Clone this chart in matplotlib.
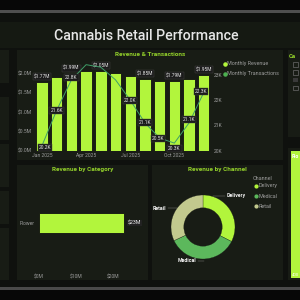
import matplotlib
matplotlib.use("Agg")
import matplotlib.pyplot as plt
from matplotlib.patches import Rectangle

plt.rcParams['font.family'] = ['Roboto', 'DejaVu Sans']

# ---------------- data ----------------
months = ["Jan", "Feb", "Mar", "Apr", "May", "Jun", "Jul", "Aug", "Sep", "Oct", "Nov", "Dec"]
month_ticks = ["Jan 2025", "Apr 2025", "Jul 2025", "Oct 2025"]
revenue_m = [1.77, 1.90, 1.99, 2.06, 2.05, 2.01, 1.94, 1.85, 1.81, 1.79, 1.85, 1.95]
transactions_k = [20.2, 21.6, 22.8, 23.4, 23.3, 22.8, 22.0, 21.1, 20.5, 20.3, 21.1, 22.3]
rev_label_months = ["Jan", "Mar", "May", "Aug", "Oct", "Dec"]
trx_label_months = ["Jan", "Feb", "Mar", "Jul", "Aug", "Sep", "Oct", "Nov", "Dec"]
left_ticks = [0.0, 0.5, 1.0, 1.5, 2.0]
right_ticks = [20, 21, 22, 23]

categories = ["Flower"]
category_revenue_m = [23]
category_ticks = [0, 10, 20]

channels = ["Delivery", "Medical", "Retail"]
channel_share = [32.5, 35.5, 32.0]

# ---------------- style ----------------
W, H = 300, 300
LIME = "#b2f53c"
GREEN_LINE = "#3f9e68"
TITLE_GREEN = "#93d12a"
PANEL = "#181c15"
CANVAS = "#0f110e"
TICK = "#9c9c9c"
channel_colors = ["#b2f53c", "#5cb85c", "#c2c98e"]

fig = plt.figure(figsize=(3, 3), dpi=100, facecolor="#080808")


def px_axes(x0, y0, x1, y1, **kw):
    return fig.add_axes([x0 / W, 1 - y1 / H, (x1 - x0) / W, (y1 - y0) / H], **kw)


bg = px_axes(0, 0, 300, 300)
bg.set_xlim(0, 300)
bg.set_ylim(300, 0)
bg.axis("off")


def rect(x0, y0, x1, y1, color, **kw):
    bg.add_patch(Rectangle((x0, y0), x1 - x0, y1 - y0, facecolor=color, edgecolor="none", **kw))


rect(0, 0, 300, 10, "#070707")
rect(0, 10, 300, 12.5, "#4f4f4f")
rect(0, 12.5, 300, 287, CANVAS)
rect(0, 22, 300, 48, "#151912")
rect(0, 287, 300, 290, "#4a4a4a")
rect(0, 290, 300, 300, "#070707")

# left column boxes
for y0, y1 in [(50, 83), (97, 140), (144, 187), (191, 224), (228, 280)]:
    rect(0, y0, 9, y1, PANEL)

# main panels
rect(17, 50, 283, 160, PANEL)
rect(17, 165, 148, 280, PANEL)
rect(152, 165, 283, 280, PANEL)
rect(288, 50, 300, 137, PANEL)
rect(288, 148, 300, 280, PANEL)

# right slicer (partly visible at the edge)
bg.text(289, 56, "Ca", color=TITLE_GREEN, fontsize=4.3, fontweight="bold",
        va="center", ha="left")
for i, yy in enumerate([62, 70, 77.5, 85.5]):
    if i == 2:
        rect(293, yy, 297.5, yy + 4.5, "#3a3a3a")
    else:
        bg.add_patch(Rectangle((293, yy), 4.5, 4.5, facecolor="none", edgecolor="#6a6a6a", lw=0.5))

# right treemap strip (partly visible)
rect(290.5, 151, 300, 278, LIME)
bg.text(292, 157, "Flo", color="white", fontsize=3.8, fontweight="bold", va="center", ha="left")
bg.text(292, 275, "400", color="white", fontsize=3, va="center", ha="left")

# titles
bg.text(146, 36, "Cannabis Retail Performance", color="#e6e6e6", fontsize=10.2,
        fontweight="medium", ha="center", va="center")
bg.text(150, 54.5, "Revenue & Transactions", color=TITLE_GREEN, fontsize=4.6,
        fontweight="bold", ha="center", va="center")
bg.text(83, 170, "Revenue by Category", color=TITLE_GREEN, fontsize=4.6,
        fontweight="bold", ha="center", va="center")
bg.text(217, 170, "Revenue by Channel", color=TITLE_GREEN, fontsize=4.6,
        fontweight="bold", ha="center", va="center")

# ---------------- Revenue & Transactions ----------------
ax = px_axes(34, 60, 212, 150.7)
ax.set_facecolor("none")
x = list(range(len(months)))
ax.bar(x, revenue_m, width=0.78, color=LIME, edgecolor="#101010", linewidth=0.6, zorder=2)
ax.set_xlim(-0.544, 11.56)
ax.set_ylim(0, 2.344)
ax.set_yticks(left_ticks)
ax.set_yticklabels([f"${v:.1f}M" for v in left_ticks])
ax.set_xticks([months.index(m.split()[0]) for m in month_ticks])
ax.set_xticklabels(month_ticks)
ax.tick_params(axis="both", colors=TICK, labelsize=3.6, length=0, pad=1.5)
for s in ax.spines.values():
    s.set_visible(False)

for m in rev_label_months:
    i = months.index(m)
    ax.annotate(f"${revenue_m[i]:.2f}M", (i, revenue_m[i]), xytext=(0, 2.2), textcoords="offset points",
                ha="center", va="bottom", fontsize=3.5, color="#e8e8e8", zorder=6,
                bbox=dict(boxstyle="square,pad=0.2", fc="#1b1b1b", ec="#444444", lw=0.3))

ax2 = ax.twinx()
ax2.set_ylim(20, 23.585)
ax2.plot(x, transactions_k, color=GREEN_LINE, lw=0.7, zorder=5)
ax2.set_yticks(right_ticks)
ax2.set_yticklabels([f"{v}K" for v in right_ticks])
ax2.tick_params(axis="y", colors=TICK, labelsize=3.6, length=0, pad=1.5)
for s in ax2.spines.values():
    s.set_visible(False)
trx_offsets = {"Jan": (2, -1), "Mar": (0, 2), "Oct": (0, -4), "Sep": (-1, 0), "Nov": (0, 2.5), "Dec": (-2, 1)}
for m in trx_label_months:
    i = months.index(m)
    dx, dy = trx_offsets.get(m, (0, 0))
    ax2.annotate(f"{transactions_k[i]:.1f}K", (i, transactions_k[i]), xytext=(dx, dy), textcoords="offset points",
                 ha="center", va="center", fontsize=3.5, color="#e8e8e8", zorder=7,
                 bbox=dict(boxstyle="square,pad=0.2", fc="#1b1b1b", ec="#444444", lw=0.3))

# legend
bg.scatter([224.5], [64], s=5, color=LIME, zorder=5)
bg.text(227, 64, "Monthly Revenue", color=TICK, fontsize=3.9, va="center", ha="left")
bg.scatter([224.5], [74], s=5, color="#4caf50", zorder=5)
bg.text(227, 74, "Monthly Transactions", color=TICK, fontsize=3.9, va="center", ha="left")

# ---------------- Revenue by Category ----------------
axc = px_axes(39, 176, 140, 270)
axc.set_facecolor("none")
yc = list(range(len(categories)))
axc.barh(yc, category_revenue_m, height=1.0, color=LIME, edgecolor="#101010", linewidth=0.6)
axc.set_xlim(0, 27.3)
axc.set_ylim(-2.35, 2.35)
axc.set_xticks(category_ticks)
axc.set_xticklabels([f"${v}M" for v in category_ticks])
axc.set_yticks(yc)
axc.set_yticklabels(categories)
axc.tick_params(axis="both", colors=TICK, labelsize=3.6, length=0, pad=3.5)
for s in axc.spines.values():
    s.set_visible(False)
for i, v in enumerate(category_revenue_m):
    axc.annotate(f"${v}M", (v, i), xytext=(2.5, 0), textcoords="offset points", ha="left", va="center",
                 fontsize=3.8, color="#f0f0f0",
                 bbox=dict(boxstyle="square,pad=0.15", fc="#222222", ec="none"))

# ---------------- Revenue by Channel ----------------
axd = px_axes(163, 187, 243, 267)
axd.set_facecolor("none")
axd.pie(channel_share, colors=channel_colors, startangle=90, counterclock=False, radius=1.0,
        wedgeprops=dict(width=0.4, edgecolor=PANEL, linewidth=0.2))
axd.set_xlim(-1.25, 1.25)
axd.set_ylim(-1.25, 1.25)
axd.set_aspect("equal")
axd.axis("off")

lab_style = dict(fontsize=3.8, color="#f0f0f0", fontweight="bold", va="center")
axd.plot([0.3, 0.7], [0.97, 0.97], color="#888888", lw=0.3, clip_on=False)
axd.text(0.74, 0.97, channels[0], ha="left", clip_on=False, **lab_style)
axd.plot([-0.17, 0.02], [-1.06, -1.06], color="#888888", lw=0.3, clip_on=False)
axd.text(-0.21, -1.06, channels[1], ha="right", clip_on=False, **lab_style)
axd.plot([-1.1, -0.8], [0.59, 0.59], color="#888888", lw=0.3, clip_on=False)
axd.text(-1.14, 0.59, channels[2], ha="right", clip_on=False, **lab_style)

bg.text(252.5, 178, "Channel", color=TICK, fontsize=4, va="center", ha="left")
for k, (name, col) in enumerate(zip(channels, channel_colors)):
    yy = 186 + 10 * k
    bg.scatter([255.7], [yy], s=4, color=col, zorder=5)
    bg.text(258.5, yy, name, color=TICK, fontsize=3.9, va="center", ha="left")

fig.savefig("out.png", dpi=100, facecolor=fig.get_facecolor())
